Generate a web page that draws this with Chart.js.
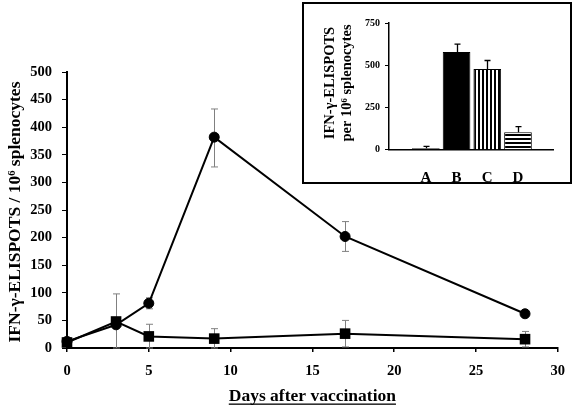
<!DOCTYPE html>
<html><head><meta charset="utf-8">
<script src="https://cdn.jsdelivr.net/npm/chart.js@4/dist/chart.umd.min.js"></script>
<style>
html,body{margin:0;padding:0;background:#fff;}
#wrap{position:relative;width:576px;height:408px;overflow:hidden;}
#main{position:absolute;left:0;top:0;}
#inset{position:absolute;left:302px;top:2px;background:#fff;}
</style></head><body>
<div id="wrap"><canvas id="main" width="576" height="408"></canvas><canvas id="inset" width="270" height="182"></canvas></div>
<script>
// ---- data: main chart ----
const days = [0, 3, 5, 9, 17, 28];
const circleValues  = [12, 42, 81, 382, 202, 62];
const circleErrHigh = [12, 42, 91, 433, 229, 62];
const circleErrLow  = [12, 42, 71, 328, 175, 62];
const squareValues  = [10, 48, 21, 17, 26, 16];
const squareErrHigh = [10, 98, 43, 35, 50, 30];
const squareErrLow  = [10, 0, 0, 0, 2, 2];
const xTickStep = 5;
const yTickStep = 50;
const xTitle = 'Days after vaccination';
const yTitle = 'IFN-\u03B3-ELISPOTS / 10\u2076 splenocytes';

// ---- data: inset chart ----
const insetCategories = ['A', 'B', 'C', 'D'];
const insetValues  = [8, 578, 477, 104];
const insetErrHigh = [20, 625, 528, 137];
const insetYTickStep = 250;
const insetTitleLines = ['IFN-\u03B3-ELISPOTS', 'per 10\u2076 splenocytes'];

const FONT = "'Liberation Serif','Times New Roman',serif";
Chart.defaults.font.family = FONT;
Chart.defaults.font.weight = 'bold';
Chart.defaults.color = '#000';

function errorBarPlugin(id, color, lw, capHalf, drawLow) {
  return {
    id: id,
    beforeDatasetsDraw(chart) {
      const ctx = chart.ctx;
      const ys = chart.scales.y;
      ctx.save();
      ctx.strokeStyle = color;
      ctx.lineWidth = lw;
      chart.data.datasets.forEach((ds, di) => {
        if (!ds.errHigh) return;
        const meta = chart.getDatasetMeta(di);
        meta.data.forEach((el, i) => {
          const x = Math.round(el.x) + 0.5;
          const v = ds.errValues[i];
          const hi = ds.errHigh[i];
          const lo = drawLow && ds.errLow ? ds.errLow[i] : v;
          if (hi === v && lo === v) return;
          const yh = ys.getPixelForValue(hi);
          const yl = ys.getPixelForValue(lo);
          ctx.beginPath();
          ctx.moveTo(x, yh); ctx.lineTo(x, yl);
          if (hi > v) { ctx.moveTo(x - capHalf, yh); ctx.lineTo(x + capHalf, yh); }
          if (lo < v) { ctx.moveTo(x - capHalf, yl); ctx.lineTo(x + capHalf, yl); }
          ctx.stroke();
        });
      });
      ctx.restore();
    }
  };
}

const mainTitles = {
  id: 'mainTitles',
  afterDraw(chart) {
    const ctx = chart.ctx, a = chart.chartArea;
    ctx.save();
    ctx.fillStyle = '#000';
    ctx.font = 'bold 17.5px ' + FONT;
    ctx.textAlign = 'center';
    ctx.textBaseline = 'alphabetic';
    const cx = (a.left + a.right) / 2;
    ctx.fillText(xTitle, cx, 401);
    const w = ctx.measureText(xTitle).width;
    ctx.fillRect(cx - w / 2, 403.5, w, 1.3);
    ctx.translate(15, (a.top + a.bottom) / 2 + 2);
    ctx.rotate(-Math.PI / 2);
    ctx.textBaseline = 'middle';
    ctx.fillText(yTitle, 0, 0);
    ctx.restore();
  }
};

new Chart(document.getElementById('main'), {
  type: 'line',
  data: {
    datasets: [
      {
        data: days.map((d, i) => ({x: d, y: circleValues[i]})),
        errValues: circleValues, errHigh: circleErrHigh, errLow: circleErrLow,
        borderColor: '#000', borderWidth: 2, backgroundColor: '#000',
        pointStyle: 'circle', pointRadius: 5, pointBorderWidth: 1,
        pointBackgroundColor: '#000', pointBorderColor: '#000', clip: false
      },
      {
        data: days.map((d, i) => ({x: d, y: squareValues[i]})),
        errValues: squareValues, errHigh: squareErrHigh, errLow: squareErrLow,
        borderColor: '#000', borderWidth: 2, backgroundColor: '#000',
        pointStyle: 'rect', pointRadius: 7.5, pointBorderWidth: 0,
        pointBackgroundColor: '#000', pointBorderColor: '#000', clip: false
      }
    ]
  },
  options: {
    responsive: false, animation: false, devicePixelRatio: 1,
    layout: {padding: {top: 72, right: 14, left: 0, bottom: 0}},
    plugins: {legend: {display: false}, tooltip: {enabled: false}},
    scales: {
      x: {
        type: 'linear', min: 0, max: 30,
        afterFit(s) { s.height = 60; },
        ticks: {stepSize: xTickStep, padding: 11, font: {size: 14.5, weight: 'bold'}, color: '#000'},
        grid: {drawOnChartArea: false, drawTicks: true, tickLength: 4, color: '#000', lineWidth: 1.5},
        border: {display: true, color: '#000', width: 2}
      },
      y: {
        type: 'linear', min: 0, max: 500,
        afterFit(s) { s.width = 67; },
        ticks: {stepSize: yTickStep, padding: 10, font: {size: 14.5, weight: 'bold'}, color: '#000'},
        grid: {drawOnChartArea: false, drawTicks: true, tickLength: 5, color: '#000', lineWidth: 1},
        border: {display: true, color: '#000', width: 2}
      }
    }
  },
  plugins: [errorBarPlugin('mainErr', '#808080', 1, 3.5, true), mainTitles]
});

// ---- inset ----
const insetCanvas = document.getElementById('inset');
const ictx = insetCanvas.getContext('2d');
function stripes(vertical) {
  const c = document.createElement('canvas');
  c.width = 4; c.height = 4;
  const g = c.getContext('2d');
  g.fillStyle = '#fff'; g.fillRect(0, 0, 4, 4);
  g.fillStyle = '#000';
  if (vertical) g.fillRect(0, 0, 2, 4); else g.fillRect(0, 0, 4, 2);
  return ictx.createPattern(c, 'repeat');
}
const insetFills = ['#000', '#000', stripes(true), stripes(false)];
const insetPositions = insetCategories.map((c, i) => i + 1.2);

const insetDeco = {
  id: 'insetDeco',
  afterDraw(chart) {
    const ctx = chart.ctx;
    ctx.save();
    ctx.strokeStyle = '#000';
    ctx.lineWidth = 2;
    ctx.strokeRect(1, 1, chart.width - 2, chart.height - 2);
    ctx.fillStyle = '#000';
    ctx.font = 'bold 14.5px ' + FONT;
    ctx.textAlign = 'center';
    ctx.textBaseline = 'middle';
    ctx.translate(28, 81);
    ctx.rotate(-Math.PI / 2);
    ctx.fillText(insetTitleLines[0], 0, 0);
    ctx.fillText(insetTitleLines[1], 0, 17.7);
    ctx.restore();
  }
};

new Chart(insetCanvas, {
  type: 'bar',
  data: {
    datasets: [{
      data: insetPositions.map((p, i) => ({x: p, y: insetValues[i]})),
      errValues: insetValues, errHigh: insetErrHigh,
      backgroundColor: insetFills,
      borderColor: '#000', borderWidth: 1,
      categoryPercentage: 0.9, barPercentage: 1
    }]
  },
  options: {
    responsive: false, animation: false, devicePixelRatio: 1,
    layout: {padding: {top: 21, right: 19, left: 0, bottom: 0}},
    plugins: {legend: {display: false}, tooltip: {enabled: false}},
    scales: {
      x: {
        type: 'linear', min: 0, max: 5.34, offset: false,
        afterFit(s) { s.height = 34.3; },
        afterBuildTicks(s) { s.ticks = insetPositions.map(v => ({value: v})); },
        ticks: {
          padding: 11, font: {size: 15, weight: 'bold'}, color: '#000',
          callback: (v, idx) => insetCategories[idx]
        },
        grid: {display: false},
        border: {display: true, color: '#000', width: 1.5}
      },
      y: {
        type: 'linear', min: 0, max: 750,
        afterFit(s) { s.width = 87; },
        ticks: {stepSize: insetYTickStep, padding: 5, font: {size: 10, weight: 'bold'}, color: '#000'},
        grid: {drawOnChartArea: false, drawTicks: true, tickLength: 4, color: '#000', lineWidth: 1},
        border: {display: true, color: '#000', width: 1.5}
      }
    }
  },
  plugins: [errorBarPlugin('insetErr', '#000', 1.3, 3, false), insetDeco]
});
</script>
</body></html>
